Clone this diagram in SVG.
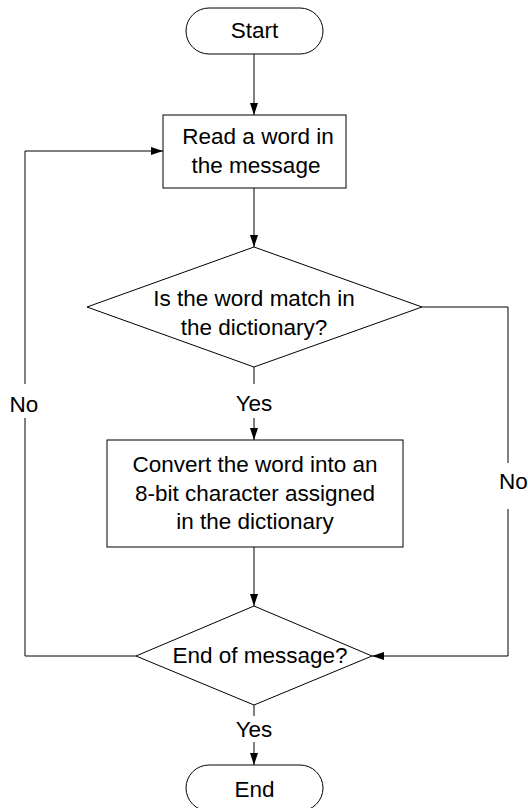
<svg xmlns="http://www.w3.org/2000/svg" width="528" height="808" viewBox="0 0 528 808">
<defs>
<style>
.shape{fill:#fff;stroke:#000;stroke-width:1}
.edge{fill:none;stroke:#000;stroke-width:1}
text{font-family:"Liberation Sans",Arial,sans-serif;font-size:22.5px;fill:#000}
.c{text-anchor:middle}
</style>
<marker id="arr" viewBox="0 0 12 8" refX="12" refY="4" markerWidth="12" markerHeight="8" markerUnits="userSpaceOnUse" orient="auto">
<path d="M0,0 L12,4 L0,8 Z" fill="#000"/>
</marker>
</defs>
<rect width="528" height="808" fill="#fff"/>
<g id="connectors">
<path class="edge" d="M254,54 V115" marker-end="url(#arr)"/>
<path class="edge" d="M254,188 V247" marker-end="url(#arr)"/>
<path class="edge" d="M254,367 V384"/>
<path class="edge" d="M254,418 V440" marker-end="url(#arr)"/>
<path class="edge" d="M254,547 V606" marker-end="url(#arr)"/>
<path class="edge" d="M136,656 H25 V418"/>
<path class="edge" d="M25,384 V151 H163" marker-end="url(#arr)"/>
<path class="edge" d="M422,307 H508 V463"/>
<path class="edge" d="M508,509 V656 H372" marker-end="url(#arr)"/>
<path class="edge" d="M254,705 V716"/>
<path class="edge" d="M254,742 V765" marker-end="url(#arr)"/>
<text class="c" x="254" y="411">Yes</text>
<text class="c" x="24" y="412">No</text>
<text x="499" y="489">No</text>
<text class="c" x="254" y="737">Yes</text>
</g>
<g id="start">
<rect class="shape" x="186" y="8" width="137" height="46" rx="23" ry="23"/>
<text class="c" x="254.5" y="38">Start</text>
</g>
<g id="read">
<rect class="shape" x="163" y="115" width="183" height="73"/>
<text class="c" x="258" y="144">Read a word in</text>
<text class="c" x="256" y="173">the message</text>
</g>
<g id="match">
<polygon class="shape" points="254,247 422,307 254,367 87,307"/>
<text class="c" x="254" y="306">Is the word match in</text>
<text class="c" x="254" y="335">the dictionary?</text>
</g>
<g id="convert">
<rect class="shape" x="107" y="440" width="296" height="107"/>
<text class="c" x="255" y="472">Convert the word into an</text>
<text class="c" x="255" y="501">8-bit character assigned</text>
<text class="c" x="255" y="529">in the dictionary</text>
</g>
<g id="endofmsg">
<polygon class="shape" points="254,606 372,656 254,705 136,656"/>
<text class="c" x="260" y="663">End of message?</text>
</g>
<g id="end">
<rect class="shape" x="186" y="765" width="137" height="46" rx="23" ry="23"/>
<text class="c" x="254.5" y="797">End</text>
</g>
</svg>
